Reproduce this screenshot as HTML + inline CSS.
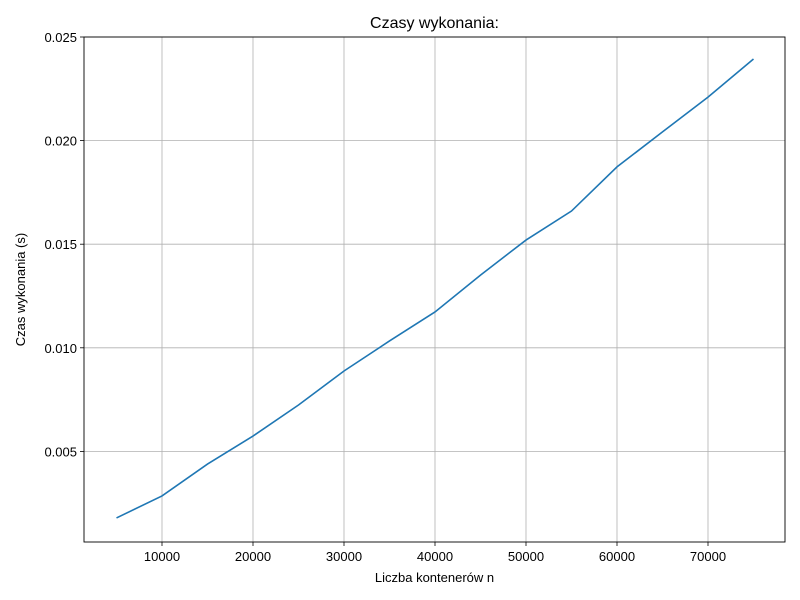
<!DOCTYPE html>
<html><head><meta charset="utf-8"><style>
body{margin:0;background:#fff;}
svg{display:block;font-family:"Liberation Sans","DejaVu Sans",sans-serif;}
</style></head><body>
<svg id="chart" width="800" height="600"></svg>
<script>
const categories=[5000,10000,15000,20000,25000,30000,35000,40000,45000,50000,55000,60000,65000,70000,75000];
const seriesValues=[0.00179,0.00285,0.00439,0.00574,0.00724,0.00888,0.01033,0.01173,0.01351,0.0152,0.0166,0.01873,0.02042,0.0221,0.02394];
const xTicks=[10000,20000,30000,40000,50000,60000,70000];
const yTicks=[0.005,0.010,0.015,0.020,0.025];
const yTickLabels=["0.005","0.010","0.015","0.020","0.025"];

const L=84,R=785,T=37,B=542;
const xs=v=>71+(v/10000)*91.0;
const ys=v=>555-v*20720;
const svg=document.getElementById('chart');
const NS='http://www.w3.org/2000/svg';
function mk(tag,attrs,parent){const e=document.createElementNS(NS,tag);for(const k in attrs)e.setAttribute(k,attrs[k]);(parent||svg).appendChild(e);return e;}

const grid=mk('g',{});


xTicks.forEach(t=>{mk('line',{x1:xs(t),x2:xs(t),y1:T,y2:B,stroke:'#b0b0b0','stroke-width':0.8},grid);});
yTicks.forEach(t=>{mk('line',{x1:L,x2:R,y1:ys(t),y2:ys(t),stroke:'#b0b0b0','stroke-width':0.8},grid);});

const xt=mk('g',{});


xTicks.forEach(t=>{
  mk('line',{x1:xs(t),x2:xs(t),y1:B,y2:B+4,stroke:'#000','stroke-width':0.8},xt);
  const tx=mk('text',{x:xs(t),y:B+19,'text-anchor':'middle','font-size':13},xt);tx.textContent=t;
});
const yt=mk('g',{});


yTicks.forEach((t,i)=>{
  mk('line',{x1:L-4,x2:L,y1:ys(t),y2:ys(t),stroke:'#000','stroke-width':0.8},yt);
  const tx=mk('text',{x:L-7,y:ys(t)+5,'text-anchor':'end','font-size':13},yt);tx.textContent=yTickLabels[i];
});

const line=mk('polyline',{points:categories.map((c,i)=>xs(c)+','+ys(seriesValues[i])).join(' '),fill:'none',stroke:'#1f77b4','stroke-width':1.6});



const frame=mk('rect',{x:L,y:T,width:R-L,height:B-T,fill:'none',stroke:'#000','stroke-width':0.9});



const title=mk('text',{x:(L+R)/2,y:28,'text-anchor':'middle','font-size':16});
title.textContent='Czasy wykonania:';


const xl=mk('text',{x:(L+R)/2,y:582,'text-anchor':'middle','font-size':13});
xl.textContent='Liczba kontenerów n';


const yl=mk('text',{x:0,y:0,'text-anchor':'middle','font-size':13,transform:'translate(25,'+((T+B)/2)+') rotate(-90)'});
yl.textContent='Czas wykonania (s)';


</script>
</body></html>
